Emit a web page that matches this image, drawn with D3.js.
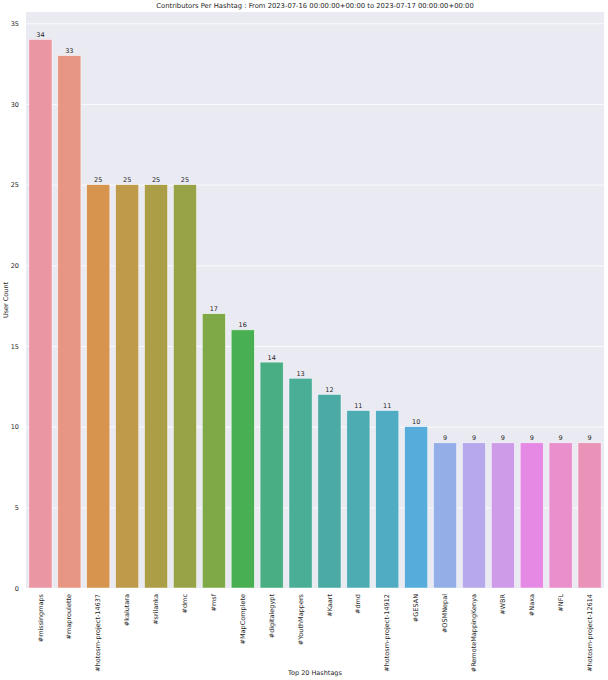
<!DOCTYPE html>
<html>
<head>
<meta charset="utf-8">
<script src="https://cdn.jsdelivr.net/npm/d3@7"></script>
<style>
  body { margin: 0; background: #fff; }
  text { font-family: "DejaVu Sans", sans-serif; fill: #262626; }
</style>
</head>
<body>
<svg id="chart"></svg>
<script>
const hashtags = ['#missingmaps', '#maproulette', '#hotosm-project-14637', '#kalutara', '#srilanka',
    '#dmc', '#msf', '#MapComplete', '#digitalegypt', '#YouthMappers', '#Kaart', '#dmd',
    '#hotosm-project-14912', '#GESAN', '#OSMNepal', '#RemoteMappingKenya', '#WBR', '#Naxa',
    '#NFL', '#hotosm-project-12614'];
const userCounts = [34, 33, 25, 25, 25, 25, 17, 16, 14, 13, 12, 11, 11, 10, 9, 9, 9, 9, 9, 9];
const yTicks = [0, 5, 10, 15, 20, 25, 30, 35];

const title = 'Contributors Per Hashtag : From 2023-07-16 00:00:00+00:00 to 2023-07-17 00:00:00+00:00';

// husl palette like seaborn, then desaturated
function huslToRgb(H, S, L) {
    const m = [[3.2406, -1.5372, -0.4986], [-0.9689, 1.8758, 0.0415], [0.0557, -0.2040, 1.0570]];
    const hrad = H * Math.PI / 180;
    const sinH = Math.sin(hrad), cosH = Math.cos(hrad);
    const sub1 = Math.pow(L + 16, 3) / 1560896.0;
    const sub2 = sub1 > 0.008856 ? sub1 : L / 903.3;
    let mx = Infinity;
    m.forEach(([m1, m2, m3]) => {
        const top = (0.99915 * m1 + 1.05122 * m2 + 1.14460 * m3) * sub2;
        const rb = 0.86330 * m3 - 0.17266 * m2;
        const lb = 0.12949 * m3 - 0.38848 * m1;
        const bottom = (rb * sinH + lb * cosH) * sub2;
        [0, 1].forEach(t => {
            const C = L * (top - 1.05122 * t) / (bottom + 0.17266 * sinH * t);
            if (C > 0 && C < mx) mx = C;
        });
    });
    const C = mx / 100 * S;
    const U = Math.cos(hrad) * C, V = Math.sin(hrad) * C;
    const t = (L + 16) / 116;
    const varY = Math.pow(t, 3) > 0.008856 ? Math.pow(t, 3) : (116 * t - 16) / 903.3;
    const varU = U / (13 * L) + 0.19784;
    const varV = V / (13 * L) + 0.46834;
    const Y = varY;
    const X = -(9 * Y * varU) / ((varU - 4) * varV - varU * varV);
    const Z = (9 * Y - 15 * varV * Y - varV * X) / (3 * varV);
    return m.map(r => {
        const c = r[0] * X + r[1] * Y + r[2] * Z;
        const v = c <= 0.0031308 ? 12.92 * c : 1.055 * Math.pow(c, 1 / 2.4) - 0.055;
        return Math.max(0, Math.min(1, v));
    });
}

function palette(n) {
    return d3.range(n).map(i => {
        const h = ((i / n + 0.01) % 1) * 359;
        const [r, g, b] = huslToRgb(h, 0.9 * 99, 0.7 * 99);
        const hsl = d3.hsl(d3.rgb(r * 255, g * 255, b * 255));
        hsl.s *= 0.75;
        return hsl.formatHex();
    });
}

const width = 608, height = 680;
const margin = { top: 12, right: 4, bottom: 92, left: 26 };

const svg = d3.select('#chart')
    .attr('width', width)
    .attr('height', height);

const x = d3.scaleBand()
    .domain(hashtags)
    .range([margin.left, width - margin.right])
    .padding(0.2)
    .paddingOuter(0.1);

const y = d3.scaleLinear()
    .domain([0, d3.max(userCounts) * 1.05])
    .range([height - margin.bottom, margin.top]);

const color = d3.scaleOrdinal().domain(hashtags).range(palette(hashtags.length));

svg.append('rect')
    .attr('x', margin.left)
    .attr('y', margin.top)
    .attr('width', width - margin.left - margin.right)
    .attr('height', height - margin.top - margin.bottom)
    .attr('fill', '#eaeaf2');

const gy = svg.append('g')
    .attr('transform', `translate(${margin.left}, 0)`)
    .call(d3.axisLeft(y).tickValues(yTicks).tickSize(-(width - margin.left - margin.right)).tickPadding(7));
gy.select('.domain').remove();
gy.selectAll('.tick line').attr('stroke', '#fff').attr('stroke-width', 0.8);
gy.selectAll('.tick text').attr('font-size', 6.5).attr('fill', '#262626');

svg.selectAll('.bar')
    .data(hashtags)
    .join('rect')
    .attr('class', 'bar')
    .attr('x', d => x(d))
    .attr('y', (d, i) => y(userCounts[i]))
    .attr('width', x.bandwidth())
    .attr('height', (d, i) => y(0) - y(userCounts[i]))
    .attr('fill', d => color(d))
    .attr('stroke', '#fff')
    .attr('stroke-opacity', 0.8)
    .attr('stroke-width', 0.6);

svg.selectAll('.val')
    .data(hashtags)
    .join('text')
    .attr('class', 'val')
    .attr('x', d => x(d) + x.bandwidth() / 2)
    .attr('y', (d, i) => y(userCounts[i]) - 2.5)
    .attr('text-anchor', 'middle')
    .attr('font-size', 6.5)
    .text((d, i) => userCounts[i]);

const gx = svg.append('g')
    .attr('transform', `translate(0, ${height - margin.bottom})`)
    .call(d3.axisBottom(x).tickSize(0).tickPadding(0));
gx.select('.domain').remove();
gx.selectAll('.tick text')
    .attr('font-size', 6.5)
    .attr('fill', '#262626')
    .attr('text-anchor', 'end')
    .attr('dy', '0.32em')
    .attr('transform', 'translate(0, 6) rotate(-90)')
    .attr('x', 0)
    .attr('y', 0);

svg.append('text')
    .attr('x', (margin.left + width - margin.right) / 2)
    .attr('y', 8)
    .attr('text-anchor', 'middle')
    .attr('font-size', 6.8)
    .text(title);

svg.append('text')
    .attr('x', (margin.left + width - margin.right) / 2)
    .attr('y', 675)
    .attr('text-anchor', 'middle')
    .attr('font-size', 6.5)
    .text('Top 20 Hashtags');

svg.append('text')
    .attr('transform', `translate(8, ${(margin.top + height - margin.bottom) / 2}) rotate(-90)`)
    .attr('text-anchor', 'middle')
    .attr('font-size', 6.5)
    .text('User Count');
</script>
</body>
</html>
